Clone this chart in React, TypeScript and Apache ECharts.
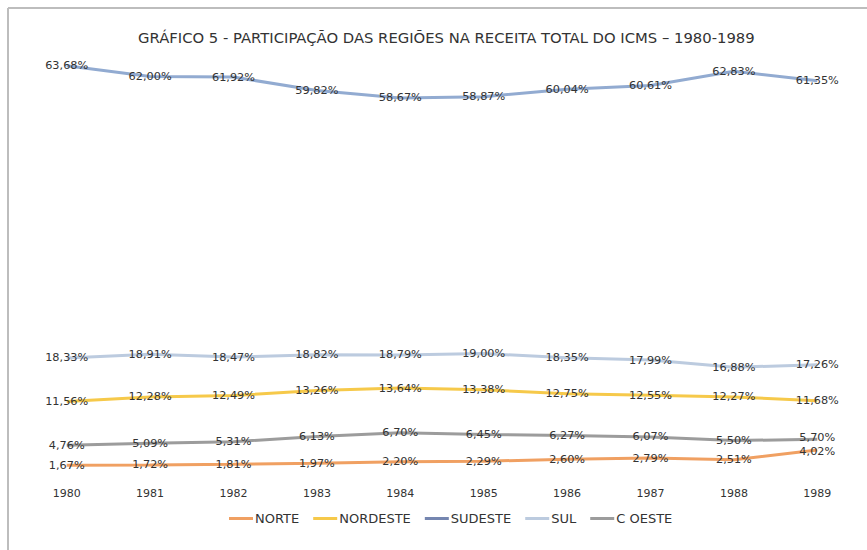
import React, { useEffect, useRef } from "react";
import * as echarts from "echarts";

const years = ["1980", "1981", "1982", "1983", "1984", "1985", "1986", "1987", "1988", "1989"];
const norte = [1.67, 1.72, 1.81, 1.97, 2.2, 2.29, 2.6, 2.79, 2.51, 4.02];
const nordeste = [11.56, 12.28, 12.49, 13.26, 13.64, 13.38, 12.75, 12.55, 12.27, 11.68];
const sudeste = [63.68, 62.0, 61.92, 59.82, 58.67, 58.87, 60.04, 60.61, 62.83, 61.35];
const sul = [18.33, 18.91, 18.47, 18.82, 18.79, 19.0, 18.35, 17.99, 16.88, 17.26];
const coeste = [4.76, 5.09, 5.31, 6.13, 6.7, 6.45, 6.27, 6.07, 5.5, 5.7];

const FONT = "DejaVu Sans";

export default function App() {
  const ref = useRef<HTMLDivElement>(null);
  useEffect(() => {
    if (!ref.current) return;
    const chart = echarts.init(ref.current, null, { renderer: "svg" });
    const mk = (name: string, data: number[], color: string, lastDy = 0) => ({
      name,
      type: "line",
      data: data.map((v, i) =>
        i === data.length - 1 && lastDy !== 0 ? { value: v, label: { offset: [0, lastDy] } } : v
      ),
      symbol: "circle",
      symbolSize: 0.1,
      itemStyle: { color },
      lineStyle: { color, width: 3 },
      label: {
        show: true,
        position: "inside",
        color: "#333333",
        fontFamily: FONT,
        fontSize: 11.3,
        formatter: (p: any) => Number(p.value).toFixed(2).replace(".", ",") + "%",
      },
    });
    chart.setOption({
      animation: false,
      title: {
        text: "GRÁFICO 5 - PARTICIPAÇÃO DAS REGIÕES NA RECEITA TOTAL DO ICMS – 1980-1989",
        left: 133,
        top: 25,
        textStyle: { fontFamily: FONT, fontSize: 14.8, fontWeight: "normal", color: "#333333" },
      },
      graphic: [
        { type: "line", shape: { x1: 8, y1: 8, x2: 867, y2: 8 }, style: { stroke: "#BDBDBD", lineWidth: 2 } },
        { type: "line", shape: { x1: 8, y1: 8, x2: 8, y2: 550 }, style: { stroke: "#BDBDBD", lineWidth: 2 } },
      ],
      legend: {
        bottom: 20,
        left: 224,
        itemWidth: 24,
        itemHeight: 3,
        itemGap: 14,
        icon: "rect",
        textStyle: { fontFamily: FONT, fontSize: 13, color: "#333333", padding: [0, 0, 0, -3] },
        data: [
          { name: "NORTE" },
          { name: "NORDESTE" },
          { name: "SUDESTE", itemStyle: { color: "#7586B0" } },
          { name: "SUL" },
          { name: "C OESTE" },
        ],
      },
      grid: { left: 25, right: 8, top: 25, bottom: 74 },
      xAxis: {
        type: "category",
        data: years,
        boundaryGap: true,
        axisLine: { show: false },
        axisTick: { show: false },
        axisLabel: { fontFamily: FONT, fontSize: 11, color: "#333333", margin: 12 },
      },
      yAxis: {
        type: "value",
        min: 0,
        max: 70,
        show: false,
        splitLine: { show: false },
      },
      series: [
        mk("NORTE", norte, "#F0A062", 1),
        mk("NORDESTE", nordeste, "#F6C94A"),
        mk("SUDESTE", sudeste, "#92ABD1"),
        mk("SUL", sul, "#BCCBDF"),
        mk("C OESTE", coeste, "#9C9C9C", -2),
      ],
    });
    return () => chart.dispose();
  }, []);
  return (
    <div
      ref={ref}
      style={{ position: "fixed", left: 0, top: 0, width: 867, height: 550, background: "#ffffff" }}
    />
  );
}
